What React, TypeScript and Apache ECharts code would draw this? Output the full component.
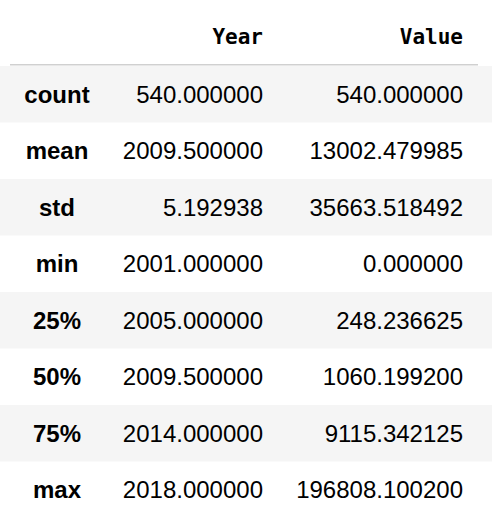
import { useEffect, useRef } from "react"
import * as echarts from "echarts"

const columns = ["Year", "Value"]
const stats = ["count", "mean", "std", "min", "25%", "50%", "75%", "max"]
const yearValues = ["540.000000", "2009.500000", "5.192938", "2001.000000", "2005.000000", "2009.500000", "2014.000000", "2018.000000"]
const valueValues = ["540.000000", "13002.479985", "35663.518492", "0.000000", "248.236625", "1060.199200", "9115.342125", "196808.100200"]

export default function App() {
  const chartRef = useRef<HTMLDivElement>(null)

  useEffect(() => {
    if (!chartRef.current) return
    const chart = echarts.init(chartRef.current, undefined, { renderer: "svg" })

    const top = 66
    const rowH = 56.5
    const colRight = [263, 463]
    const elements: any[] = []

    columns.forEach((c, i) => {
      elements.push({
        type: "text",
        x: colRight[i],
        y: 37,
        style: { text: c, fontFamily: "DejaVu Sans Mono", fontWeight: "bold", fontSize: 21, fill: "#000", align: "right", verticalAlign: "middle" },
      })
    })
    elements.push({ type: "rect", shape: { x: 10, y: 64, width: 468, height: 1.5 }, style: { fill: "#d0d0d0" } })

    stats.forEach((s, r) => {
      const y0 = top + r * rowH
      const cy = y0 + rowH / 2
      if (r % 2 === 0) {
        elements.push({ type: "rect", shape: { x: 0, y: y0, width: 492, height: rowH }, style: { fill: "#f5f5f5" } })
      }
      elements.push({
        type: "text", x: 57, y: cy,
        style: { text: s, fontFamily: "Liberation Sans", fontWeight: "bold", fontSize: 24, fill: "#000", align: "center", verticalAlign: "middle" },
      })
      ;[yearValues[r], valueValues[r]].forEach((v, i) => {
        elements.push({
          type: "text", x: colRight[i], y: cy,
          style: { text: v, fontFamily: "Liberation Sans", fontSize: 24, fill: "#000", align: "right", verticalAlign: "middle" },
        })
      })
    })

    chart.setOption({ animation: false, backgroundColor: "#fff", graphic: { elements } })
    return () => chart.dispose()
  }, [])

  return <div ref={chartRef} style={{ position: "absolute", left: 0, top: 0, width: 492, height: 517 }} />
}
